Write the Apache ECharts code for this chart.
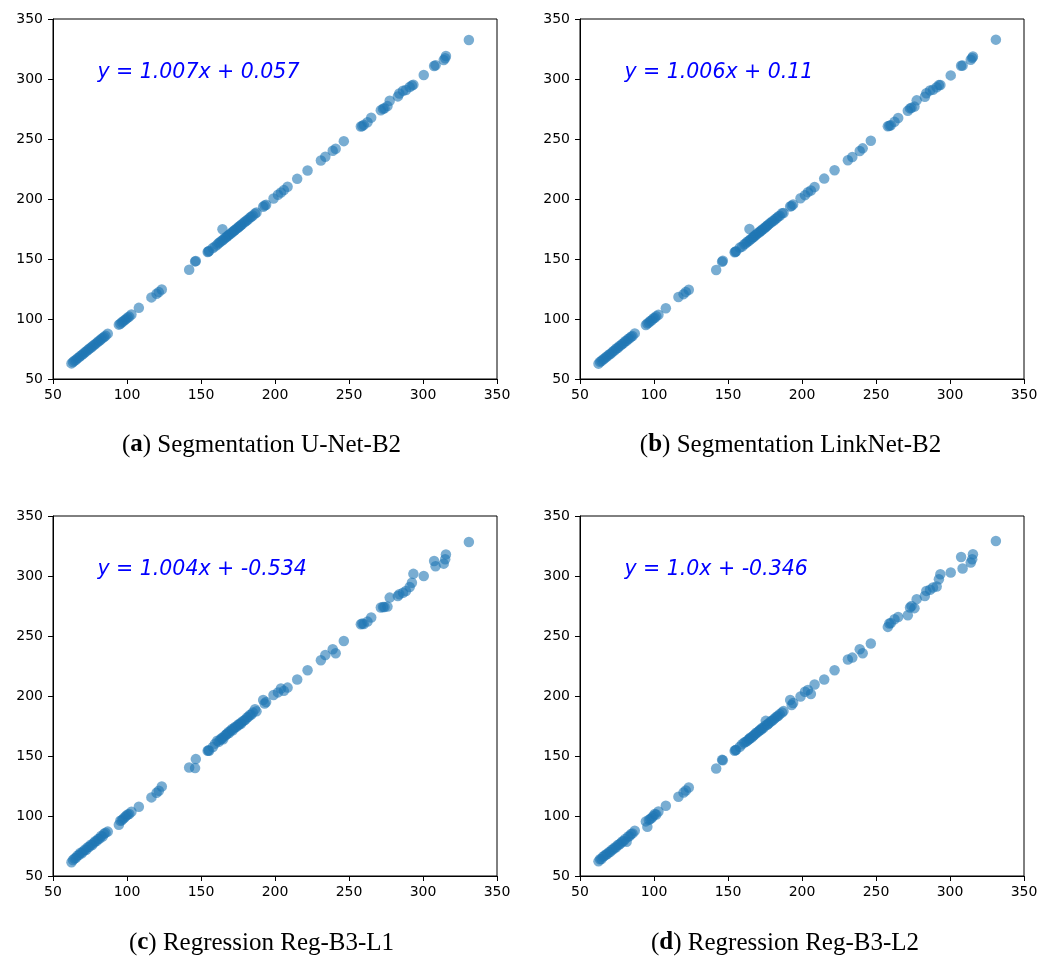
<!DOCTYPE html>
<html>
<head>
<meta charset="utf-8">
<script src="https://cdn.jsdelivr.net/npm/echarts@6/dist/echarts.min.js"></script>
<style>
html,body{margin:0;padding:0;background:#fff;}
#chart{width:1053px;height:959px;}
</style>
</head>
<body>
<div id="chart"></div>
<script>
// ground-truth values (x), shared by all four panels
const groundTruth = [
 62.5,63.5,64.5,65.5,66.5,67.5,68.5,69.5,70.5,71.5,
 72.5,73.5,74.5,75.5,76.5,77.5,78.5,79.5,80.5,81.5,
 82.5,83.5,84.5,85.5,87,94.5,95.5,96.5,97.5,98.5,
 99.5,100.5,101.5,103,108,116.5,120,121.5,123.5,142,
 146,146.5,154.5,155,155.5,158,159.5,161,162,163,
 164,164.5,165,166,167,167.5,168.5,169,170,171,
 171.5,172.5,173,174,175,175.5,176.5,177,178,179,
 180,181,182,183,184,185,186.5,187.5,192,193,
 194,199,202,204,206,208.5,215,222,231,234,
 239,241,246.5,258,259,260,262.5,265,271.5,273,
 274,276,277.5,283,284,286.5,288.5,291,292.5,293.5,
 300.5,307.5,308.5,314,315,315.5,331
];
// predicted values (y) for each panel
const predA = [
 63.0,64.1,65.2,66.0,67.2,68.0,69.1,70.1,71.0,72.2,
 73.0,74.1,75.2,76.0,77.1,78.2,79.0,80.1,81.2,82.0,
 83.1,84.2,85.0,86.1,87.8,95.3,96.0,97.3,98.1,99.2,
 100.1,101.3,102.0,103.8,109.3,118.0,121.0,122.4,124.6,141.0,
 148.0,148.3,155.8,156.3,156.8,159.2,160.5,162.0,163.3,164.1,
 165.2,174.8,166.0,167.3,168.0,168.8,169.7,170.3,171.1,172.3,
 172.6,173.8,174.2,175.3,176.0,176.9,177.6,178.4,179.2,180.5,
 181.2,182.3,183.1,184.5,185.2,186.3,187.9,188.7,193.5,194.6,
 195.2,200.4,203.5,205.4,207.4,210.2,216.8,223.8,232.1,235.2,
 240.2,241.9,248.2,260.4,260.8,261.8,264.0,267.8,273.9,275.2,
 275.6,277.4,281.9,285.5,287.9,290.2,290.8,293.4,294.6,295.3,
 303.3,310.8,311.4,315.8,317.3,319.1,332.5
];
const predB = [
 62.8,64.3,65.0,66.2,67.0,68.2,68.9,70.3,70.8,72.0,
 73.2,73.9,75.4,75.8,77.3,78.0,79.2,79.9,81.4,81.8,
 83.3,84.0,85.2,85.9,88.0,95.0,96.3,97.0,98.4,99.0,
 100.4,101.0,102.3,103.6,109.0,118.3,120.7,122.6,124.4,140.8,
 147.7,148.6,155.6,156.0,156.5,159.5,160.3,162.3,163.0,164.4,
 165.0,175.0,166.3,167.0,168.3,168.6,170.0,170.1,171.4,172.0,
 172.9,173.5,174.5,175.0,176.3,176.6,177.9,178.2,179.5,180.3,
 181.5,182.0,183.4,184.2,185.5,186.0,188.2,188.4,193.8,194.3,
 195.5,200.6,203.2,205.7,207.1,210.0,217.0,224.0,232.3,235.0,
 240.0,242.2,248.5,260.6,261.0,261.5,264.3,267.5,273.6,275.5,
 276.0,277.0,282.2,285.2,288.1,290.5,291.0,293.1,294.9,295.0,
 303.0,311.0,311.2,316.0,317.6,318.8,332.8
];
const predC = [
 61.4,63.3,64.5,65.2,67.0,67.4,69.3,68.9,70.5,72.0,
 71.8,73.9,74.3,76.0,75.8,77.6,78.9,79.2,80.9,81.3,
 83.3,82.9,85.2,86.0,87.0,92.7,96.0,96.4,97.8,98.9,
 100.3,101.2,101.6,103.5,107.7,115.5,119.4,121.0,124.6,140.4,
 139.9,147.4,154.3,154.7,154.4,157.5,160.3,162.7,161.8,163.6,
 164.9,165.0,164.0,166.8,167.9,168.3,169.9,169.2,171.0,172.5,
 171.4,173.2,174.1,174.3,176.0,175.8,177.3,176.9,178.8,179.5,
 180.3,182.0,182.6,184.2,184.5,186.3,189.0,187.2,196.6,193.8,
 195.0,200.8,203.0,206.2,204.3,207.0,213.7,221.5,229.8,234.2,
 239.0,235.6,245.9,259.8,260.4,259.9,262.0,265.4,273.7,274.2,
 274.2,274.5,282.0,283.4,284.8,286.0,287.5,290.9,294.4,301.8,
 300.0,312.5,308.1,310.3,313.9,318.0,328.3
];
const predD = [
 62.2,63.9,64.2,66.1,66.8,67.9,68.4,69.8,70.2,71.9,
 72.2,73.8,74.0,75.9,76.2,77.3,78.7,79.1,80.8,78.6,
 82.9,83.2,85.0,85.5,87.7,95.5,91.1,96.8,97.4,98.6,
 99.9,101.6,101.2,103.7,108.5,116.0,119.6,121.2,123.8,139.6,
 146.8,146.4,154.3,154.9,155.1,157.7,159.8,161.2,161.9,162.6,
 163.8,164.3,165.2,165.4,166.8,167.3,168.2,169.4,169.8,170.9,
 171.6,172.1,173.4,173.6,175.2,179.3,176.0,176.6,177.7,178.9,
 179.6,180.7,181.8,182.9,183.6,184.9,186.2,187.4,196.6,192.4,
 194.2,199.6,203.5,205.0,201.6,209.6,213.7,221.5,230.4,232.0,
 239.0,235.6,243.7,257.6,260.4,260.8,264.0,265.9,267.3,273.7,
 275.0,273.2,280.7,283.4,287.6,288.5,290.4,291.2,297.3,301.5,
 302.9,315.9,306.2,311.2,313.9,318.1,329.2
];
const equations = ['y = 1.007x + 0.057','y = 1.006x + 0.11','y = 1.004x + -0.534','y = 1.0x + -0.346'];
const captionLetters = ['a','b','c','d'];
const captionTexts = [' Segmentation U-Net-B2',' Segmentation LinkNet-B2',' Regression Reg-B3-L1',' Regression Reg-B3-L2'];
const axisMin = 50, axisMax = 350, axisStep = 50;
const eqAnchor = [80, 300];

const preds = [predA, predB, predC, predD];
const gridPos = [
  {left:53, top:19}, {left:580, top:19},
  {left:53, top:516}, {left:580, top:516}
];
const captionPos = [[261.5,445],[790.5,445],[261.5,943],[785,943]];

const chart = echarts.init(document.getElementById('chart'), null, {renderer:'canvas'});
const axisCommon = {
  type:'value', min:axisMin, max:axisMax, interval:axisStep,
  axisLine:{show:true, onZero:false, lineStyle:{color:'#000', width:1}},
  axisTick:{show:true, inside:false, length:5, lineStyle:{color:'#000', width:1}},
  axisLabel:{show:true, color:'#000', fontSize:14, fontFamily:'DejaVu Sans', margin:9},
  splitLine:{show:false}
};
const option = {
  backgroundColor:'#fff',
  animation:false,
  grid: gridPos.map(g => ({left:g.left, top:g.top, width:444, height:360, show:true, borderColor:'#000', borderWidth:1, backgroundColor:'transparent'})),
  xAxis: gridPos.map((g,i) => Object.assign({}, axisCommon, {gridIndex:i, axisLabel:Object.assign({}, axisCommon.axisLabel, {margin:9})})),
  yAxis: gridPos.map((g,i) => Object.assign({}, axisCommon, {gridIndex:i, axisLabel:Object.assign({}, axisCommon.axisLabel, {margin:10})})),
  series: preds.map((p,i) => ({
    type:'scatter', xAxisIndex:i, yAxisIndex:i,
    symbolSize:10.5,
    itemStyle:{color:'#1f77b4', opacity:0.6},
    data: groundTruth.map((x,k) => [x, p[k]])
  }))
};
chart.setOption(option);

const graphics = [];
for (let i=0;i<4;i++){
  const pt = chart.convertToPixel({gridIndex:i}, eqAnchor);
  graphics.push({
    type:'text', left:pt[0], top:pt[1]-16,
    style:{text:equations[i], fill:'#0000ff', font:'italic 20.5px "DejaVu Sans"', textAlign:'left'}
  });
  graphics.push({
    type:'text', x:captionPos[i][0], y:captionPos[i][1],
    style:{
      text:'({b|'+captionLetters[i]+'})'+captionTexts[i],
      fill:'#000', fontSize:25, fontFamily:'Liberation Serif',
      verticalAlign:'middle', align:'center',
      rich:{b:{fontWeight:'bold', fontSize:25, fontFamily:'Liberation Serif', fill:'#000'}}
    }
  });
}
chart.setOption({graphic:graphics});
</script>
</body>
</html>
